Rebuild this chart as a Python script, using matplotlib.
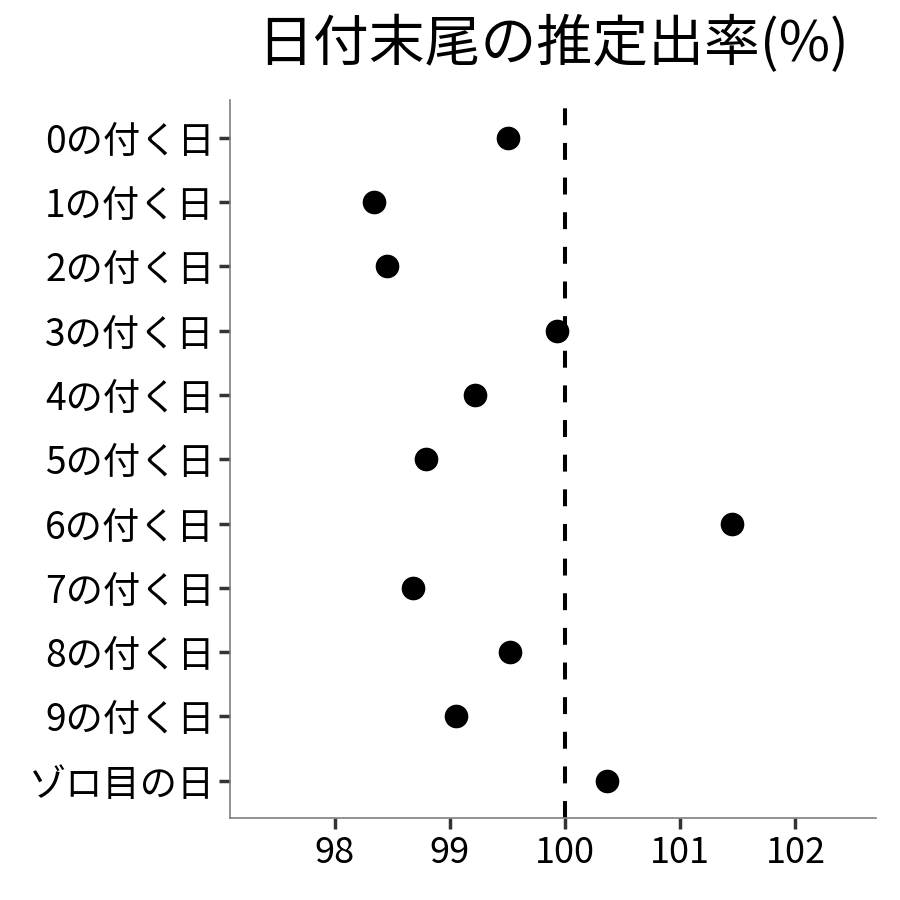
import matplotlib
matplotlib.use("Agg")
import matplotlib.pyplot as plt

plt.rcParams['font.family'] = ['Noto Sans CJK JP', 'DejaVu Sans']

categories = ["0の付く日", "1の付く日", "2の付く日", "3の付く日", "4の付く日",
              "5の付く日", "6の付く日", "7の付く日", "8の付く日", "9の付く日", "ゾロ目の日"]
values = [99.50, 98.34, 98.45, 99.93, 99.22, 98.79, 101.45, 98.68, 99.52, 99.05, 100.36]
xticks = [98, 99, 100, 101, 102]
title = "日付末尾の推定出率(%)"

fig = plt.figure(figsize=(9, 9), dpi=100)
ax = fig.add_axes([0.2556, 0.0911, 0.7178, 0.7978])

ypos = list(range(len(categories)))
ax.axvline(100, color='black', lw=2.9, linestyle=(0, (4.2, 4.4)), zorder=1)
ax.scatter(values, ypos, s=290, color='black', zorder=3, linewidths=0)

ax.set_yticks(ypos)
ax.set_yticklabels(categories)
ax.set_xticks(xticks)
ax.set_xticklabels([str(x) for x in xticks])
ax.set_xlim(97.09, 102.70)
ax.set_ylim(10.58, -0.59)

for s in ['top', 'right']:
    ax.spines[s].set_visible(False)
for s in ['left', 'bottom']:
    ax.spines[s].set_color('#7f7f7f')
    ax.spines[s].set_linewidth(1.2)
ax.tick_params(axis='both', length=8, width=2.5, color='#333333', labelcolor='black')
ax.tick_params(axis='y', pad=3, labelsize=26.8)
ax.tick_params(axis='x', pad=4, labelsize=26)

fig.text(0.615, 0.95, title, ha='center', va='center', fontsize=40.2, color='black')

fig.savefig("out.png", dpi=100)
